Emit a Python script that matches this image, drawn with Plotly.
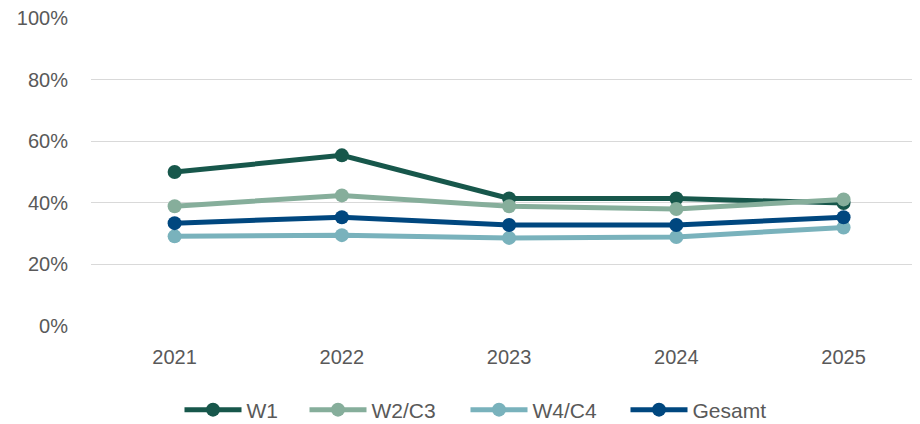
import plotly.graph_objects as go

years = ["2021", "2022", "2023", "2024", "2025"]
w1 = [0.50, 0.554, 0.414, 0.414, 0.399]
w2c3 = [0.389, 0.424, 0.389, 0.380, 0.411]
w4c4 = [0.291, 0.295, 0.286, 0.289, 0.320]
gesamt = [0.334, 0.353, 0.328, 0.328, 0.353]

series = [
    ("W1", w1, "#17574B"),
    ("W2/C3", w2c3, "#86AE9B"),
    ("W4/C4", w4c4, "#79B2BC"),
    ("Gesamt", gesamt, "#00477F"),
]

# page body has an 8px margin; figure is sized so the plot lands where the reference has it
FIG_W, FIG_H = 912, 424
M_L, M_T, M_B = 83, 10, 106
PLOT_W = FIG_W - M_L

# legend entry positions (screen px of marker centre in the reference)
legend_marker_px = [213, 338, 499, 659]
ITEM_W = 57

fig = go.Figure()
layout_legends = {}
for i, (name, vals, color) in enumerate(series):
    key = "legend" if i == 0 else f"legend{i + 1}"
    fig.add_trace(go.Scatter(
        x=years, y=vals, name=name, mode="lines+markers",
        line=dict(color=color, width=5),
        marker=dict(color=color, size=14),
        legend=key,
    ))
    left_px = legend_marker_px[i] - (ITEM_W + 10) / 2 - 8 - M_L
    layout_legends[key] = dict(
        x=left_px / PLOT_W, xanchor="left", y=-0.2727, yanchor="middle",
        orientation="h", bgcolor="rgba(0,0,0,0)", itemwidth=ITEM_W,
        font=dict(family="Liberation Sans, Arial, sans-serif", size=21, color="#595959"),
    )

fig.update_layout(
    width=FIG_W, height=FIG_H,
    margin=dict(l=M_L, r=0, t=M_T, b=M_B),
    paper_bgcolor="white", plot_bgcolor="white",
    font=dict(family="Liberation Sans, Arial, sans-serif", size=20, color="#595959"),
    showlegend=True,
    xaxis=dict(type="category", range=[-0.5, 4.457], showgrid=False, zeroline=False,
               showline=False, ticks="", automargin=False, ticklabelstandoff=17,
               tickfont=dict(size=20, color="#595959")),
    yaxis=dict(range=[0, 1], tickvals=[0, 0.2, 0.4, 0.6, 0.8, 1.0], tickformat=".0%",
               showgrid=True, gridcolor="#D9D9D9", gridwidth=1.3, zeroline=False,
               showline=False, ticks="", ticklabelstandoff=22, automargin=False,
               ticklabeloverflow="allow",
               tickfont=dict(size=20, color="#595959")),
    **layout_legends,
)

fig.write_html("out.html")
